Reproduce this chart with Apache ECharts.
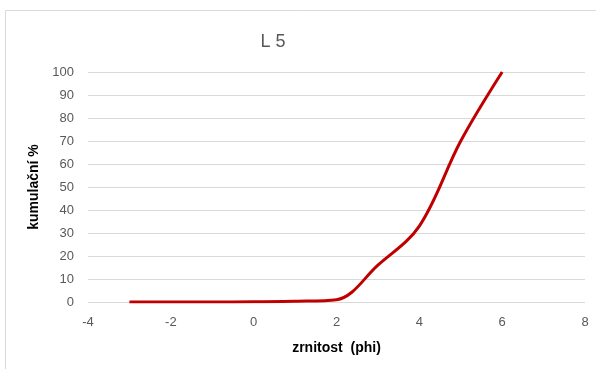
<!DOCTYPE html>
<html>
<head>
<meta charset="utf-8">
<script src="https://cdn.jsdelivr.net/npm/echarts@6/dist/echarts.min.js"></script>
<style>
  html, body { margin: 0; padding: 0; background: #fff; }
  #chart { width: 596px; height: 369px; }
</style>
</head>
<body>
<div id="chart"></div>
<script>
// Grain size (phi) and cumulative percentage for sample L 5
const phi = [-3, -2, -1, 0, 1, 2, 3, 4, 5, 6];
const cumulative = [0, 0, 0, 0.1, 0.3, 1, 16, 33, 70, 100];
const xTicks = [-4, -2, 0, 2, 4, 6, 8];
const yTicks = [0, 10, 20, 30, 40, 50, 60, 70, 80, 90, 100];

const FONT = '"Liberation Sans", "DejaVu Sans", sans-serif';
const chart = echarts.init(document.getElementById('chart'), null, { renderer: 'canvas' });

chart.setOption({
  backgroundColor: '#ffffff',
  animation: false,
  title: {
    text: 'L 5',
    left: 268,
    top: 28,
    textAlign: 'center',
    textStyle: { fontFamily: FONT, fontSize: 18, fontWeight: 'normal', color: '#595959' }
  },
  graphic: [{
    type: 'rect',
    shape: { x: 5.5, y: 10.5, width: 620, height: 400 },
    style: { fill: 'none', stroke: '#d9d9d9', lineWidth: 1 },
    silent: true
  }],
  grid: { left: 88, right: 11, top: 72, bottom: 67, containLabel: false },
  xAxis: {
    type: 'value',
    min: xTicks[0],
    max: xTicks[xTicks.length - 1],
    interval: 2,
    name: 'zrnitost  (phi)',
    nameLocation: 'middle',
    nameGap: 39,
    nameTextStyle: { fontFamily: FONT, fontSize: 14, fontWeight: 'bold', color: '#000' },
    axisLine: { show: false },
    axisTick: { show: false },
    splitLine: { show: false },
    axisLabel: { fontFamily: FONT, fontSize: 13, color: '#595959', margin: 14 }
  },
  yAxis: {
    type: 'value',
    min: yTicks[0],
    max: yTicks[yTicks.length - 1],
    interval: 10,
    name: 'kumulační %',
    nameLocation: 'middle',
    nameGap: 44,
    nameRotate: 90,
    nameTextStyle: { fontFamily: FONT, fontSize: 14, fontWeight: 'bold', color: '#000' },
    axisLine: { show: false },
    axisTick: { show: false },
    splitLine: { lineStyle: { color: '#d9d9d9', width: 1 } },
    axisLabel: { fontFamily: FONT, fontSize: 13, color: '#595959', margin: 14 }
  },
  series: [{
    type: 'line',
    data: phi.map((p, i) => [p, cumulative[i]]),
    smooth: 0.35,
    showSymbol: false,
    lineStyle: { color: '#c00000', width: 3 },
    itemStyle: { color: '#c00000' }
  }]
});
</script>
</body>
</html>
